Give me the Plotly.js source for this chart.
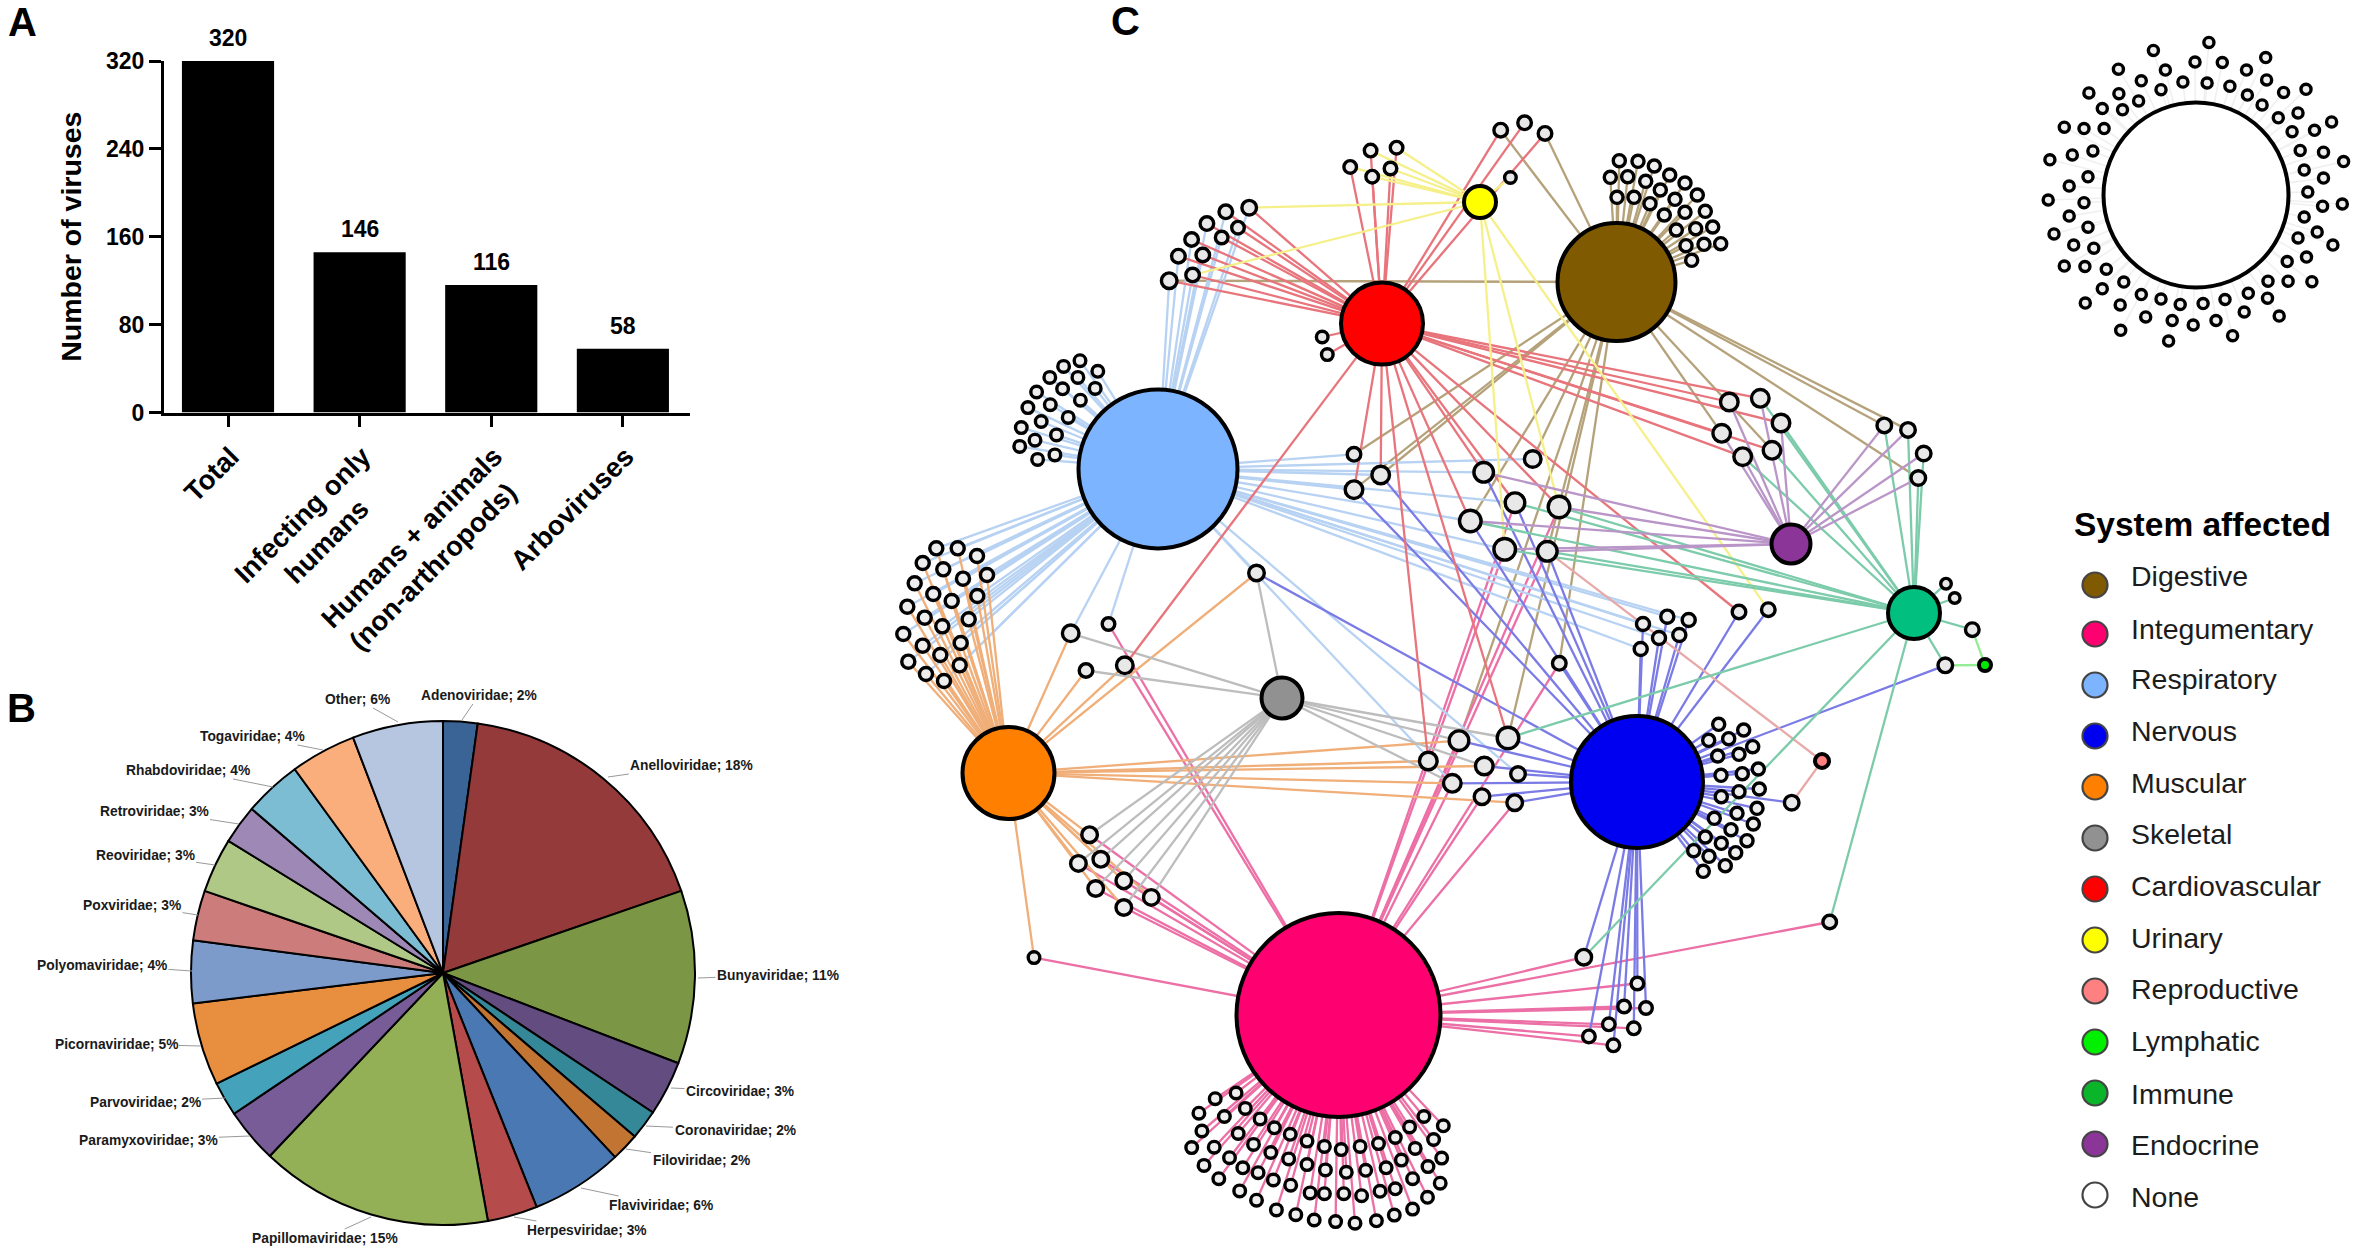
<!DOCTYPE html>
<html><head><meta charset="utf-8">
<script src="https://cdn.plot.ly/plotly-3.0.1.min.js"></script>
<style>html,body{margin:0;padding:0;background:#fff}#c{width:2362px;height:1254px}</style>
</head><body><div id="c"></div>
<script>
// ---------- Panel A ----------
const barCategories = ['Total','Infecting only humans','Humans + animals (non-arthropods)','Arboviruses'];
const barValues = [320,146,116,58];
const barTicks = [0,80,160,240,320];
// second lines carry trailing no-break spaces so that they sit centred under the first line once rotated
const barTickText = ['Total','Infecting only<br>humans\u00A0\u00A0\u00A0\u00A0\u00A0','Humans + animals<br>(non-arthropods)\u00A0\u00A0','Arboviruses'];

// ---------- Panel B ----------
const pieFamilies = ['Adenoviridae','Anelloviridae','Bunyaviridae','Circoviridae','Coronaviridae','Filoviridae','Flaviviridae','Herpesviridae','Papillomaviridae','Paramyxoviridae','Parvoviridae','Picornaviridae','Polyomaviridae','Poxviridae','Reoviridae','Retroviridae','Rhabdoviridae','Togaviridae','Other'];
const pieShare = [2.2,17.5,11.1,3.5,1.9,1.8,5.9,3.2,14.9,3.5,2.2,5.3,4.0,3.2,3.5,2.5,3.7,4.2,5.8];
const piePrinted = [2,18,11,3,2,2,6,3,15,3,2,5,4,3,3,3,4,4,6];
const pieColors = ['#3B6496','#943A3B','#7B9645','#634C80','#348898','#C27433','#4A78B2','#B54B4A','#93B057','#785C98','#44A3BB','#E88E3F','#7C9BCB','#CD7C7C','#AFC886','#9E88B5','#7DBDD3','#F9AE7C','#B6C5E0'];
const pieLabelX = [479,691,778,740,735,701,661,587,325,148,145,116,102,132,145,154,188,252,357];
const pieLabelY = [695,765,975,1091,1130,1160,1205,1230,1238,1140,1102,1044,965,905,855,811,770,736,699];
const pieTipX = [462,608,698,671,646,626,581,514,371,250,225,201,192,198,215,239,273,323,398];
const pieTipY = [720,777,978,1088,1126,1149,1188,1217,1217,1136,1098,1046,971,915,865,824,787,750,722];

// ---------- Panel C: hubs ----------
const hubNames = ['Digestive','Integumentary','Respiratory','Nervous','Muscular','Skeletal','Cardiovascular','Urinary','Reproductive','Lymphatic','Immune','Endocrine','None'];
const hubX = [1616.5,1338.5,1158,1637,1008.5,1282,1382,1480,1822,1985,1914,1791,2196];
const hubY = [282,1015,469,782,773,698,323.6,202,761,665,613,544,195];
const hubD = [122,208,163,136,96,45,86,36,18,16,56,43,189];
const hubColors = ['#7F5A00','#FF0070','#7CB4FF','#0000F0','#FF7F00','#919191','#FF0000','#FFFF00','#FF8080','#00E800','#00BF7F','#8B3598','#FFFFFF'];
const edgeColors = ['#B5A27A','#EC6FA6','#B7D2F2','#7B7BE6','#F0AE78','#BDBDBD','#E8747C','#F5F08A','#E8A9A9','#93EE93','#7CCBAA','#B995C8','#F0F0F0'];

// legend
const legendColors = ['#7F5A00','#FF0070','#7CB4FF','#0000F0','#FF7F00','#919191','#FF0000','#FFFF00','#FF8080','#00F000','#0AB52A','#8B3598','#FFFFFF'];
const legendMarkY = [585,634,685,736,787,838,889,940,991,1042,1093,1144,1195];
const legendTextY = [579,632,682,734,786,837,889,941,992,1044,1097,1148,1200];

// ---------- Panel C: individually linked nodes ----------
const coreIds = ['A','B','C','D','E','F','G','H','I','J','K','L','M','N','O','P','Q','R','S','T','U1','U2','U3','U4','U5','U6','U7','U8','U9','U10','V1','V2','V3','V4','W1','W2','X1','X2','Y1','E1','E2','E3','E4','E5','E6','R1','R2','R3','R4','G1','G2','G3','G4','G5','M1','M2','M3','M4','M5','M6'];
const coreX = [1354,1380.7,1354,1532.7,1483.7,1515,1559,1470.3,1504.7,1547.3,1559.3,1459,1508,1428.3,1484.3,1518,1452.3,1482,1514.7,1256.5,1249.2,1225.8,1206.9,1238,1191.6,1221.7,1178.4,1202.8,1192.6,1169.2,1500.7,1524.6,1545,1510.4,1322.2,1327.3,1739,1768.3,1791.7,1760.3,1729.3,1781,1721.7,1772,1742.7,1884.3,1908,1923.7,1918.3,1945.3,1972.3,1946,1954.7,1829.7,1070.7,1108.5,1086,1124.8,1034,1583.8];
const coreY = [454.3,475,489.7,459,472.3,502.7,507,521,549.3,551.3,663.3,740.7,738,761,766,774,783.3,796.7,802.7,573,207.7,211.8,223.6,227.7,239.5,237.5,256.2,255,275,280.7,130.2,122.8,133.4,177.5,337,354.6,612,609.7,802.7,398.3,402,423,433.3,450.3,456.7,425.4,429.9,453.5,478,665.3,629.7,583.7,598,922,633.3,624,670.5,665.3,957.6,957.2];
const coreD = [17,21,21,20,23,23,25,25,25,23,17,23,25,21,21,18,21,19,19,19,18,17,17,16,17,16,17,17,17,19,17,17,17,15,15,15,17,17,18,21,21,21,21,21,21,18,18,18,18,18,17,14,14,17,20,16,17,20,15,19];

const digestiveCore = ['A','B','C','D','H','J','K','L','M','E4','E5','R1','R2','R4','V1','V3','U10'];
const integumentaryCore = ['M2','M4','M5','M6','G5','F','G','I','J','K','L','Q','R','S'];
const respiratoryCore = ['A','B','C','D','E','F','H','I','P','Q','T','M1','M2','U1','U2','U3','U4','U5','U6','U7','U8','U9','U10'];
const nervousCore = ['B','C','E','F','H','J','K','T','L','M','O','P','Q','R','S','X1','X2','Y1','G1','M6'];
const muscularCore = ['M1','M3','M4','T','L','N','O','Q','S','M5'];
const skeletalCore = ['M1','M3','T','L','M','O','Q'];
const cardiovascularCore = ['B','C','E','F','G','H','M','N','M4','X1','E1','E2','E3','E4','E5','E6','U1','U2','U3','U4','U5','U6','U7','U8','U9','U10','V1','V2','V3','W1','W2'];
const urinaryCore = ['U1','U9','V4','I','G','X2'];
const reproductiveCore = ['J','Y1'];
const lymphaticCore = ['G1','G2'];
const immuneCore = ['F','G','H','I','J','M','E1','E3','E5','E6','R1','R2','R3','R4','G1','G2','G3','G4','G5','M6'];
const endocrineCore = ['E','G','H','I','J','E1','E2','E3','E4','E6','R1','R2','R3','R4'];

// ---------- Panel C: leaf clusters ----------
const digestiveLeafX = [1619.3,1638,1654.3,1610.3,1627.7,1645.7,1669.7,1685,1660.3,1617,1634,1650,1675,1697.3,1664.3,1685,1705.3,1676.3,1695.7,1712.7,1686,1704,1720.7,1691.7];
const digestiveLeafY = [160.7,161.3,166,177.3,176.7,181.3,175,183,190,197.3,197.3,203.7,199.3,195,215,212.3,211.3,230,228.7,227,245.7,244.3,243.7,260.3];
const respiratoryLeafX = [1080,1063.6,1097.8,1049.8,1077.9,1062.6,1095.2,1036.6,1080.4,1050.3,1027.9,1068.2,1041.2,1021.3,1056.5,1035,1019.7,1054.9,1037.6];
const respiratoryLeafY = [360.7,366.4,371.3,377.4,377.4,388.8,388.4,392,400.2,404.7,407.6,417.4,421.5,427.6,434.9,440.2,446.4,454.9,459.4];
const respMuscLeafX = [936.3,957.7,977,922.7,943.3,963,987,914.7,933.3,951.7,977.3,907.3,924.7,942.3,968.7,903.3,922.7,960.7,940.3,908.3,959.7,926,944];
const respMuscLeafY = [548.3,548.3,556,563,569.3,578.7,575,583.3,594,601,596,606.7,617.7,626.3,619.3,634,645.7,643,655,661.7,665.3,674,681];
const urinCardLeafX = [1370.6,1396.6,1350.2,1372.2,1390.5];
const urinCardLeafY = [150.6,147.7,166.9,176.7,168.5];
const respNervLeafX = [1667.3,1688.7,1643,1679.3,1659,1640.7];
const respNervLeafY = [616.7,620,624,635,638,649];
const nervousLeafX = [1718.7,1743.7,1708.7,1728.7,1752.7,1717.7,1739,1721,1742.3,1758.3,1721.3,1739,1759.3,1757,1737,1714.3,1753.3,1731,1747,1705.3,1721.3,1735.7,1693.7,1709,1725.3,1703.3];
const nervousLeafY = [724.3,730,740.3,738.7,746.7,756,754.3,775.3,773.7,769,796.7,791.7,789,808.3,813.3,818.3,824,829.7,840.7,837,843.3,852.7,850.7,856.3,865.7,871.3];
const muscSkelIntegX = [1089.6,1100.8,1078.4,1123.8,1095.7,1151.3,1123.8];
const muscSkelIntegY = [834.7,859.3,863.4,880.8,888.5,897.4,907.5];
const nervIntegX = [1637.4,1624.1,1646,1608.8,1633.8,1588.9,1613.4];
const nervIntegY = [983.5,1006.5,1008,1024.3,1028.3,1036.4,1045.3];
const integLeafX = [1236.1,1215.2,1198.9,1245.3,1224.4,1260.1,1201.9,1238.2,1274.4,1290.2,1191.7,1214.2,1253.5,1307,1324.4,1341.2,1360.1,1378.5,1395.3,1409.6,1423.9,1443.3,1433.6,1415.2,1401.4,1441.7,1428,1386.1,1365.7,1346.3,1325.4,1307,1288.7,1270.8,1229.5,1204,1242.8,1258.1,1218.8,1273.4,1290.7,1412.6,1440.2,1395.3,1380,1361.6,1343.8,1324.4,1310.1,1239.7,1256.5,1276.4,1295.8,1314.2,1335.6,1355,1376.4,1394.3,1412.6,1427.5];
const integLeafY = [1093,1098.7,1113.2,1108.4,1116.5,1118.9,1131,1133.5,1127.8,1134.3,1147.6,1147.2,1144.4,1141.1,1146.4,1149.6,1146.4,1143.6,1137.5,1127,1116.5,1125.8,1139.5,1148.4,1160.1,1158.1,1166.6,1167.8,1170.3,1172.3,1169.9,1164.6,1158.9,1152.5,1157.7,1165.4,1167.8,1172.7,1178.7,1180,1185.2,1178.7,1183.2,1188.8,1191.3,1195.7,1193.7,1193.7,1192.9,1190.9,1200.2,1209.9,1214.7,1220,1221.6,1223.2,1220.8,1215.1,1209.1,1197.3];
const noneLeafX = [2208.9,2153.4,2265.7,2195,2222.3,2118.4,2165.4,2246.5,2266.6,2141.3,2182.9,2207.1,2229.9,2161,2306,2088.9,2283.6,2118.9,2247.4,2138.6,2262.1,2122.5,2102.3,2298,2278.3,2331.6,2064.3,2084,2104.1,2314.5,2292.1,2300.2,2092.9,2072.3,2323.5,2049.9,2343.6,2304.2,2088,2323.5,2069.2,2307.8,2048.2,2084,2322.6,2342.3,2069.2,2304.2,2088,2054,2317.2,2298,2332.9,2073.7,2093.8,2306.5,2287.2,2064.3,2084.9,2106.3,2311.9,2288.1,2268,2123.8,2102.3,2141.3,2248.3,2267.5,2161,2225,2203.1,2180.2,2085.3,2120.2,2244.2,2279.2,2145.7,2172.2,2216,2193.2,2120.7,2232.6,2168.6];
const noneLeafY = [42.4,50.4,57.6,62,62.5,69.2,70.1,70.1,79.9,80.8,82.1,83,86.2,89.7,89.3,92.9,92.4,93.7,95.1,100.9,104.9,109.8,108.5,112.9,117.8,121.9,127.2,128.6,128.6,130.3,131.7,150.4,150.9,154.9,152.2,159.8,161.6,170.1,176.8,178.1,186.1,192,200,202.7,206.2,204,216.1,217,227.2,233.9,232.1,237.9,245.1,245.1,248.2,257.1,261.6,266.1,266.5,269.2,281.7,281.2,281.2,282.1,288.8,294.6,293.3,298.2,299.1,299.5,303.6,304.4,303.1,304.9,312,316.1,316.9,320.5,320.5,325,330.3,335.7,341];

// Which hubs each cluster connects to, and the drawn size of its dots
const clusters = [
  {x:digestiveLeafX,y:digestiveLeafY,hubs:['Digestive'],d:15.5},
  {x:respiratoryLeafX,y:respiratoryLeafY,hubs:['Respiratory'],d:15},
  {x:respMuscLeafX,y:respMuscLeafY,hubs:['Respiratory','Muscular'],d:16.5},
  {x:urinCardLeafX,y:urinCardLeafY,hubs:['Urinary','Cardiovascular'],d:16},
  {x:respNervLeafX,y:respNervLeafY,hubs:['Respiratory','Nervous'],d:16.5},
  {x:nervousLeafX,y:nervousLeafY,hubs:['Nervous'],d:15.5},
  {x:muscSkelIntegX,y:muscSkelIntegY,hubs:['Muscular','Skeletal','Integumentary'],d:19},
  {x:nervIntegX,y:nervIntegY,hubs:['Nervous','Integumentary'],d:16},
  {x:integLeafX,y:integLeafY,hubs:['Integumentary'],d:15},
  {x:noneLeafX,y:noneLeafY,hubs:['None'],d:13.5}
];
const coreLinks = [digestiveCore,integumentaryCore,respiratoryCore,nervousCore,muscularCore,skeletalCore,cardiovascularCore,urinaryCore,reproductiveCore,lymphaticCore,immuneCore,endocrineCore,[]];

// ---------- Build ----------
const traces = [];
hubNames.forEach((hub,h)=>{
  const ex=[],ey=[];
  coreLinks[h].forEach(id=>{const i=coreIds.indexOf(id);ex.push(hubX[h],coreX[i],null);ey.push(hubY[h],coreY[i],null);});
  clusters.filter(c=>c.hubs.includes(hub)).forEach(c=>c.x.forEach((vx,i)=>{ex.push(hubX[h],vx,null);ey.push(hubY[h],c.y[i],null);}));
  traces.push({type:'scatter',mode:'lines',x:ex,y:ey,line:{color:edgeColors[h],width:hub==='None'?1.6:2.3},hoverinfo:'skip',showlegend:false,cliponaxis:false});
});
const LW=3.4;
traces.push({type:'scatter',mode:'markers',x:hubX,y:hubY,marker:{size:hubD.map(d=>d-4),opacity:1,color:hubColors,line:{color:'#000',width:4}},text:hubNames,hoverinfo:'text',showlegend:false,cliponaxis:false});
traces.push({type:'scatter',mode:'markers',x:coreX,y:coreY,marker:{size:coreD.map(d=>d-LW),opacity:1,color:'#E8E8E8',line:{color:'#000',width:LW}},hoverinfo:'skip',showlegend:false,cliponaxis:false});
clusters.forEach(c=>traces.push({type:'scatter',mode:'markers',x:c.x,y:c.y,marker:{size:c.d-LW,opacity:1,color:'#EEEEEE',line:{color:'#000',width:LW}},hoverinfo:'skip',showlegend:false,cliponaxis:false}));
traces.push({type:'scatter',mode:'markers',x:hubNames.map(()=>2095),y:legendMarkY,marker:{size:25,opacity:1,color:legendColors,line:{color:'#444',width:2.2}},hoverinfo:'skip',showlegend:false,cliponaxis:false});
traces.push({type:'scatter',mode:'text',x:hubNames.map(()=>2131),y:legendTextY,text:hubNames,textposition:'middle right',textfont:{family:'Liberation Sans',size:28.5,color:'#1c1c1c'},hoverinfo:'skip',showlegend:false,cliponaxis:false});
traces.push({type:'bar',x:barCategories,y:barValues,xaxis:'x2',yaxis:'y2',width:0.7,marker:{color:'#000'},hoverinfo:'x+y',showlegend:false});
const pieR=252, pieCx=443, pieCy=973;
traces.push({type:'pie',labels:pieFamilies,values:pieShare,sort:false,direction:'clockwise',rotation:0,textinfo:'none',hoverinfo:'label',
  marker:{colors:pieColors,line:{color:'#000',width:2}},showlegend:false,
  domain:{x:[(pieCx-pieR)/2362,(pieCx+pieR)/2362],y:[1-(pieCy+pieR)/1254,1-(pieCy-pieR)/1254]}});

const annotations=[];
const letter=(t,x,y)=>annotations.push({xref:'x',yref:'y',x,y,text:t,showarrow:false,xanchor:'left',yanchor:'middle',font:{family:'Liberation Sans',size:40,color:'#000'}});
letter('<b>A</b>',6,22);letter('<b>B</b>',5,708);letter('<b>C</b>',1109,21);
barCategories.forEach((c,i)=>annotations.push({xref:'x2',yref:'y2',x:c,y:barValues[i],text:'<b>'+barValues[i]+'</b>',showarrow:false,yanchor:'middle',yshift:23,font:{family:'Liberation Sans',size:23,color:'#000'}}));
pieFamilies.forEach((f,i)=>annotations.push({xref:'x',yref:'y',axref:'x',ayref:'y',x:pieTipX[i],y:pieTipY[i],ax:pieLabelX[i],ay:pieLabelY[i],text:'<b>'+f+'; '+piePrinted[i]+'%</b>',showarrow:true,arrowhead:0,arrowwidth:1,arrowcolor:'#999',standoff:0,startstandoff:0,font:{family:'Liberation Sans',size:13.8,color:'#1a1a1a'}}));
annotations.push({xref:'x',yref:'y',x:2202,y:524,text:'<b>System affected</b>',showarrow:false,font:{family:'Liberation Sans',size:33.5,color:'#000'}});

const layout={
  width:2362,height:1254,margin:{l:0,r:0,t:0,b:0},paper_bgcolor:'#fff',plot_bgcolor:'rgba(0,0,0,0)',showlegend:false,hovermode:'closest',
  xaxis:{domain:[0,1],range:[0,2362],visible:false,fixedrange:true},
  yaxis:{domain:[0,1],range:[1254,0],visible:false,fixedrange:true},
  xaxis2:{domain:[164/2362,690/2362],range:[-0.4863,3.51],type:'category',anchor:'y2',tickmode:'array',tickvals:barCategories,ticktext:barTickText,showline:true,linecolor:'#000',linewidth:3,ticks:'outside',ticklen:11,tickwidth:3,tickcolor:'#000',tickangle:-45,ticklabelstandoff:3,ticklabelshift:3,showgrid:false,zeroline:false,fixedrange:true,tickfont:{family:'Liberation Sans',size:27.5,color:'#000',weight:700}},
  yaxis2:{domain:[1-412.5/1254,1-61/1254],range:[0,320],anchor:'x2',showline:true,linecolor:'#000',linewidth:3,ticks:'outside',ticklen:12,tickwidth:3,tickcolor:'#000',tickvals:barTicks,ticktext:barTicks.map(String),showgrid:false,zeroline:false,fixedrange:true,tickfont:{family:'Liberation Sans',size:23,color:'#000',weight:700},title:{text:'<b>Number of viruses</b>',font:{family:'Liberation Sans',size:28.5,color:'#000'},standoff:17}},
  annotations
};
Plotly.newPlot('c',traces,layout,{displayModeBar:false,responsive:false});
</script></body></html>
